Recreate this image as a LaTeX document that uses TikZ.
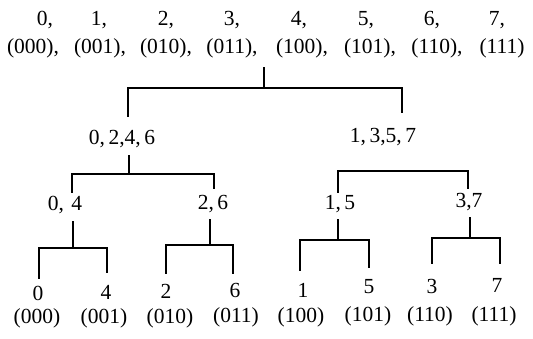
\documentclass[tikz,border=0pt]{standalone}
\usepackage{fontspec}
\setmainfont{Liberation Serif}
\begin{document}
\begin{tikzpicture}[x=1pt,y=-1pt,
  lbl/.style={font=\fontsize{21.5}{24}\selectfont, inner sep=0pt, anchor=center},
  br/.style={line width=1.2pt, line cap=rect}]
\useasboundingbox (0,0) rectangle (533,338);
% top row: numbers
\node[lbl] (t0) at (45,20) {0,};
\node[lbl] (t1) at (99,20) {1,};
\node[lbl] (t2) at (166,20) {2,};
\node[lbl] (t3) at (232,20) {3,};
\node[lbl] (t4) at (299,20) {4,};
\node[lbl] (t5) at (366,20) {5,};
\node[lbl] (t6) at (432,20) {6,};
\node[lbl] (t7) at (497,20) {7,};
% second row: binary codes
\node[lbl] (p0) at (33,48) {(000),};
\node[lbl] (p1) at (100,48) {(001),};
\node[lbl] (p2) at (166,48) {(010),};
\node[lbl] (p3) at (232,48) {(011),};
\node[lbl] (p4) at (302,48) {(100),};
\node[lbl] (p5) at (370,48) {(101),};
\node[lbl] (p6) at (437,48) {(110),};
\node[lbl] (p7) at (502,48) {(111)};
% level 1
\node[lbl] (a) at (122,139) {0,\,2,4,\,6};
\node[lbl] (b) at (383,137) {1,\,3,5,\,7};
% level 2
\node[lbl] (a1) at (65,205) {0,\,\,4};
\node[lbl] (a2) at (213,204) {2,\,6};
\node[lbl] (b1) at (340,204) {1,\,5};
\node[lbl] (b2) at (469,202) {3,7};
% leaves
\node[lbl] (l0) at (38,293) {0};
\node[lbl] (l4) at (106,292) {4};
\node[lbl] (l2) at (166,291) {2};
\node[lbl] (l6) at (235,290) {6};
\node[lbl] (l1) at (303,290) {1};
\node[lbl] (l5) at (369,287) {5};
\node[lbl] (l3) at (432,286) {3};
\node[lbl] (l7) at (497,285) {7};
% leaf codes
\node[lbl] (c0) at (37,318) {(000)};
\node[lbl] (c4) at (104,318) {(001)};
\node[lbl] (c2) at (170,318) {(010)};
\node[lbl] (c6) at (236,317) {(011)};
\node[lbl] (c1) at (301,317) {(100)};
\node[lbl] (c5) at (368,316) {(101)};
\node[lbl] (c3) at (430,316) {(110)};
\node[lbl] (c7) at (494,316) {(111)};
% bracket coordinates
\coordinate (rs) at (264,68);  \coordinate (rj) at (264,88);
\coordinate (rl) at (128,88);  \coordinate (rr) at (402,88);
\coordinate (rle) at (128,116); \coordinate (rre) at (402,112);
\coordinate (as) at (129,156); \coordinate (aj) at (129,174);
\coordinate (al) at (72,174);  \coordinate (ar) at (214,174);
\coordinate (ale) at (72,192); \coordinate (are) at (214,188);
\coordinate (bl) at (338,171); \coordinate (brr) at (468,171);
\coordinate (ble) at (338,192); \coordinate (bre) at (468,188);
\coordinate (a1s) at (73,222); \coordinate (a1j) at (73,248);
\coordinate (a1l) at (39,248); \coordinate (a1r) at (107,248);
\coordinate (a1le) at (39,278); \coordinate (a1re) at (107,272);
\coordinate (a2s) at (210,220); \coordinate (a2j) at (210,245);
\coordinate (a2l) at (166,245); \coordinate (a2r) at (233,245);
\coordinate (a2le) at (166,273); \coordinate (a2re) at (233,273);
\coordinate (b1s) at (338,220); \coordinate (b1j) at (338,240);
\coordinate (b1l) at (300,240); \coordinate (b1r) at (369,240);
\coordinate (b1le) at (300,270); \coordinate (b1re) at (369,267);
\coordinate (b2s) at (470,218); \coordinate (b2j) at (470,238);
\coordinate (b2l) at (432,238); \coordinate (b2r) at (500,238);
\coordinate (b2le) at (432,263); \coordinate (b2re) at (500,263);
% brackets
\draw[br] (rs) -- (rj);
\draw[br] (rle) -- (rl) -- (rr) -- (rre);
\draw[br] (as) -- (aj);
\draw[br] (ale) -- (al) -- (ar) -- (are);
\draw[br] (ble) -- (bl) -- (brr) -- (bre);
\draw[br] (a1s) -- (a1j);
\draw[br] (a1le) -- (a1l) -- (a1r) -- (a1re);
\draw[br] (a2s) -- (a2j);
\draw[br] (a2le) -- (a2l) -- (a2r) -- (a2re);
\draw[br] (b1s) -- (b1j);
\draw[br] (b1le) -- (b1l) -- (b1r) -- (b1re);
\draw[br] (b2s) -- (b2j);
\draw[br] (b2le) -- (b2l) -- (b2r) -- (b2re);
\end{tikzpicture}
\end{document}
